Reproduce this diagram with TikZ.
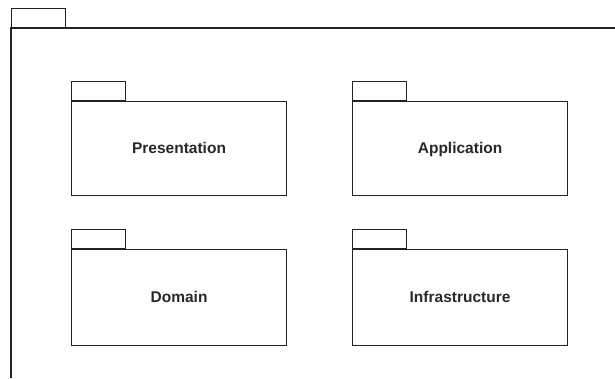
\documentclass[tikz,border=0pt]{standalone}
\usepackage{fontspec}
\setmainfont{Liberation Sans}
\definecolor{linecol}{RGB}{34,34,34}
\definecolor{textcol}{RGB}{40,40,40}
\tikzset{
  pkgbody/.style={draw=linecol, line width=1.1pt, rectangle, anchor=north west,
    minimum width=215pt, minimum height=94pt, inner sep=0pt, text=textcol,
    text height=12pt, text depth=3pt,
    font=\fontsize{15.5}{18}\selectfont\bfseries},
  pkgtab/.style={draw=linecol, line width=1.1pt, rectangle, anchor=south west,
    minimum width=54pt, minimum height=19pt, inner sep=0pt},
  frame/.style={draw=linecol, line width=1.2pt}
}
\begin{document}
\begin{tikzpicture}[x=1pt, y=-1pt]
  \useasboundingbox (0,0) rectangle (615,378);
  % enclosing package: tab and open frame
  \node[pkgtab] (outertab) at (11,28) {};
  \coordinate (frameTL) at (11,28);
  \coordinate (frameTR) at (615,28);
  \coordinate (frameBL) at (11,378);
  \draw[frame] (frameBL) -- (frameTL) -- (frameTR);
  % layer packages
  \node[pkgbody] (pres) at (71,101) {Presentation};
  \node[pkgtab] (prestab) at (pres.north west) {};
  \node[pkgbody] (app) at (352,101) {Application};
  \node[pkgtab] (apptab) at (app.north west) {};
  \node[pkgbody, minimum height=96pt] (dom) at (71,249) {Domain};
  \node[pkgtab] (domtab) at (dom.north west) {};
  \node[pkgbody, minimum height=96pt] (infra) at (352,249) {Infrastructure};
  \node[pkgtab] (infratab) at (infra.north west) {};
\end{tikzpicture}
\end{document}
